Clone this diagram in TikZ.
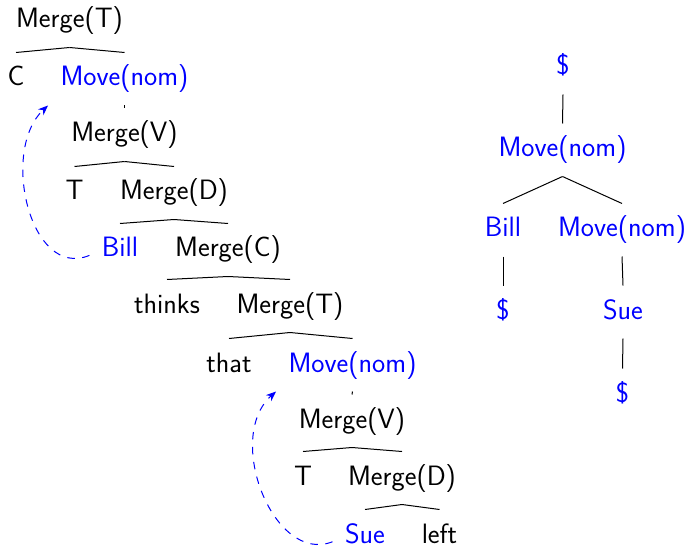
\documentclass[tikz,border=0pt]{standalone}
\usetikzlibrary{arrows.meta}
\begin{document}
\begin{tikzpicture}[x=1bp,y=-1bp,line width=1bp,
  font=\sffamily\fontsize{28bp}{33bp}\selectfont,
  lbl/.style={anchor=base,inner sep=12bp,text height=21bp,text depth=7bp},
  mv/.style={lbl,text=blue},
  trace/.style={blue,dash pattern=on 7.5bp off 7.5bp,-{Stealth[length=10bp,width=8bp]}}]
\useasboundingbox (0,0) rectangle (687,550);
% left tree
\node[lbl] (mergeT) at (69.5,28) {Merge(T)};
\node[lbl] (c) at (16,86) {C};
\node[mv] (moveA) at (124.5,86) {Move(nom)};
\node[lbl] (mergeV) at (124.5,142) {Merge(V)};
\node[lbl] (tA) at (74.5,200) {T};
\node[lbl] (mergeD) at (174,200) {Merge(D)};
\node[mv] (bill) at (120,257) {Bill};
\node[lbl] (mergeC) at (228,257) {Merge(C)};
\node[lbl] (thinks) at (167,313) {thinks};
\node[lbl] (mergeTT) at (290,313) {Merge(T)};
\node[lbl] (that) at (229,372) {that};
\node[mv] (moveB) at (352.5,372) {Move(nom)};
\node[lbl] (mergeVV) at (352,428) {Merge(V)};
\node[lbl] (tB) at (303,485) {T};
\node[lbl] (mergeDD) at (402,485) {Merge(D)};
\node[mv] (sue) at (365,543) {Sue};
\node[lbl] (left) at (439.5,543) {left};
\foreach \p/\c in {mergeT/c,mergeT/moveA,moveA/mergeV,mergeV/tA,mergeV/mergeD,
  mergeD/bill,mergeD/mergeC,mergeC/thinks,mergeC/mergeTT,mergeTT/that,mergeTT/moveB,
  moveB/mergeVV,mergeVV/tB,mergeVV/mergeDD,mergeDD/sue,mergeDD/left}
  \draw (\p.south) -- (\c.north);
% movement arrows
\draw[trace] (bill.190) .. controls (30,280) and (0,150) .. (moveA.south west);
\draw[trace] (sue.190) .. controls (274,565) and (224,438) .. (moveB.south west);
% right tree
\node[mv] (top) at (563,75) {\$};
\node[mv] (moveR) at (562.5,157) {Move(nom)};
\node[mv] (billR) at (503,237) {Bill};
\node[mv] (moveRR) at (622,237) {Move(nom)};
\node[mv] (endA) at (503,319) {\$};
\node[mv] (sueR) at (623,319) {Sue};
\node[mv] (endB) at (622.5,402) {\$};
\foreach \p/\c in {top/moveR,moveR/billR,moveR/moveRR,billR/endA,moveRR/sueR,sueR/endB}
  \draw (\p.south) -- (\c.north);
\end{tikzpicture}
\end{document}
